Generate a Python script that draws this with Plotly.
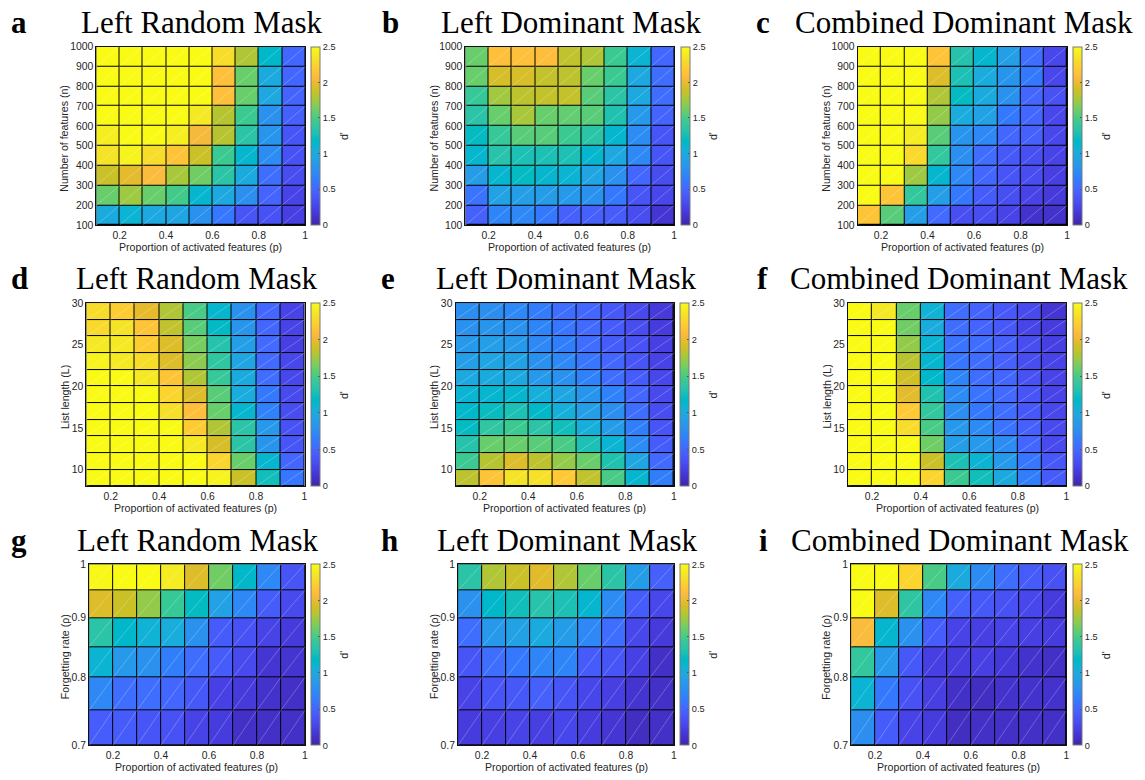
import plotly.graph_objects as go

# ---------------- data ----------------
p_edges = [0.1, 0.2, 0.3, 0.4, 0.5, 0.6, 0.7, 0.8, 0.9, 1.0]
n_edges = [100, 200, 300, 400, 500, 600, 700, 800, 900, 1000]
L_edges = [8, 10, 12, 14, 16, 18, 20, 22, 24, 26, 28, 30]
rho_edges = [0.70, 0.75, 0.80, 0.85, 0.90, 0.95, 1.00]

x_ticks = [0.2, 0.4, 0.6, 0.8, 1.0]
x_ticktext = ["0.2", "0.4", "0.6", "0.8", "1"]
n_ticks = [100, 200, 300, 400, 500, 600, 700, 800, 900, 1000]
L_ticks = [10, 15, 20, 25, 30]
rho_ticks = [0.7, 0.8, 0.9, 1.0]
rho_ticktext = ["0.7", "0.8", "0.9", "1"]
cbar_ticks = [0, 0.5, 1, 1.5, 2, 2.5]
cbar_ticktext = ["0", "0.5", "1", "1.5", "2", "2.5"]

titles = ["Left Random Mask", "Left Dominant Mask", "Combined Dominant Mask"]
letters = ["a", "b", "c", "d", "e", "f", "g", "h", "i"]
x_label = "Proportion of activated features (p)"
y_labels = ["Number of features (n)", "List length (L)", "Forgetting rate (\u03c1)"]
cbar_label = "d'"

# d' values, rows listed from top (largest y) to bottom
dp_n_random = [
    [2.50, 2.50, 2.50, 2.50, 2.50, 2.30, 1.80, 1.15, 0.50],
    [2.50, 2.50, 2.50, 2.50, 2.50, 2.12, 1.60, 1.00, 0.50],
    [2.50, 2.50, 2.50, 2.50, 2.50, 2.12, 1.60, 0.97, 0.48],
    [2.50, 2.50, 2.50, 2.50, 2.38, 1.82, 1.45, 0.80, 0.45],
    [2.42, 2.50, 2.50, 2.42, 2.05, 1.82, 1.35, 0.82, 0.38],
    [2.35, 2.45, 2.30, 2.15, 1.88, 1.45, 1.12, 0.75, 0.36],
    [1.88, 1.98, 2.08, 1.78, 1.62, 1.35, 1.00, 0.55, 0.32],
    [1.60, 1.75, 1.60, 1.48, 1.12, 0.98, 0.78, 0.48, 0.25],
    [1.00, 1.10, 0.98, 0.95, 0.80, 0.60, 0.38, 0.35, 0.22],
]
dp_n_dominant = [
    [1.60, 2.12, 2.12, 2.10, 1.85, 1.80, 1.45, 1.10, 0.50],
    [1.60, 1.92, 1.93, 1.86, 1.84, 1.60, 1.45, 0.98, 0.55],
    [1.42, 1.76, 1.84, 1.86, 1.86, 1.55, 1.35, 0.98, 0.55],
    [1.35, 1.60, 1.78, 1.60, 1.58, 1.55, 1.30, 0.85, 0.48],
    [1.20, 1.42, 1.55, 1.55, 1.45, 1.35, 1.12, 0.75, 0.38],
    [1.12, 1.33, 1.28, 1.28, 1.28, 1.12, 0.98, 0.72, 0.38],
    [0.88, 1.12, 1.20, 1.12, 1.10, 0.95, 0.80, 0.50, 0.32],
    [0.58, 0.92, 0.90, 0.88, 0.85, 0.80, 0.62, 0.38, 0.28],
    [0.45, 0.70, 0.72, 0.62, 0.45, 0.45, 0.42, 0.32, 0.15],
]
dp_n_combined = [
    [2.50, 2.50, 2.50, 2.15, 1.32, 1.12, 0.90, 0.55, 0.28],
    [2.50, 2.50, 2.50, 1.95, 1.28, 1.02, 0.82, 0.62, 0.28],
    [2.50, 2.50, 2.50, 1.80, 1.20, 1.00, 0.80, 0.50, 0.35],
    [2.50, 2.50, 2.50, 1.72, 1.02, 0.92, 0.62, 0.50, 0.28],
    [2.50, 2.50, 2.40, 1.55, 0.82, 0.72, 0.50, 0.45, 0.28],
    [2.50, 2.50, 2.28, 1.40, 0.78, 0.55, 0.40, 0.33, 0.25],
    [2.50, 2.50, 1.75, 1.12, 0.72, 0.50, 0.38, 0.32, 0.22],
    [2.50, 2.15, 1.40, 0.90, 0.62, 0.42, 0.33, 0.25, 0.18],
    [2.15, 1.55, 0.90, 0.52, 0.33, 0.32, 0.25, 0.12, 0.12],
]
dp_L_random = [
    [2.30, 2.20, 1.98, 1.80, 1.50, 1.12, 0.80, 0.50, 0.25],
    [2.28, 2.35, 2.15, 1.85, 1.55, 1.18, 0.82, 0.50, 0.25],
    [2.38, 2.38, 2.20, 1.95, 1.64, 1.32, 0.90, 0.52, 0.22],
    [2.45, 2.38, 2.30, 1.95, 1.70, 1.38, 0.95, 0.52, 0.28],
    [2.50, 2.50, 2.38, 2.15, 1.80, 1.42, 1.00, 0.55, 0.28],
    [2.50, 2.50, 2.50, 2.25, 1.95, 1.55, 1.02, 0.62, 0.30],
    [2.50, 2.50, 2.50, 2.32, 2.10, 1.60, 1.12, 0.68, 0.32],
    [2.50, 2.50, 2.50, 2.50, 2.20, 1.80, 1.35, 0.85, 0.36],
    [2.50, 2.50, 2.50, 2.50, 2.38, 1.92, 1.35, 0.82, 0.38],
    [2.50, 2.50, 2.50, 2.50, 2.50, 2.25, 1.60, 1.12, 0.50],
    [2.50, 2.50, 2.50, 2.50, 2.50, 2.45, 1.88, 1.25, 0.60],
]
dp_L_dominant = [
    [0.78, 0.78, 0.72, 0.64, 0.55, 0.50, 0.40, 0.30, 0.18],
    [0.80, 0.82, 0.80, 0.70, 0.60, 0.52, 0.42, 0.32, 0.20],
    [0.85, 0.90, 0.85, 0.72, 0.65, 0.55, 0.42, 0.35, 0.22],
    [0.90, 0.95, 0.92, 0.80, 0.72, 0.60, 0.50, 0.38, 0.25],
    [0.98, 1.00, 0.98, 0.85, 0.80, 0.68, 0.55, 0.42, 0.28],
    [1.10, 1.12, 1.12, 1.05, 0.95, 0.82, 0.68, 0.50, 0.30],
    [1.15, 1.22, 1.28, 1.15, 1.05, 0.90, 0.78, 0.55, 0.32],
    [1.20, 1.38, 1.45, 1.35, 1.25, 1.05, 0.88, 0.65, 0.38],
    [1.32, 1.60, 1.60, 1.55, 1.50, 1.28, 1.10, 0.75, 0.42],
    [1.45, 1.82, 1.95, 1.84, 1.72, 1.60, 1.30, 0.95, 0.52],
    [1.84, 2.15, 2.35, 2.33, 2.18, 1.85, 1.50, 1.12, 0.65],
]
dp_L_combined = [
    [2.50, 2.38, 1.60, 1.08, 0.55, 0.48, 0.40, 0.30, 0.15],
    [2.50, 2.50, 1.62, 1.02, 0.55, 0.48, 0.40, 0.26, 0.20],
    [2.50, 2.50, 1.72, 1.10, 0.58, 0.55, 0.45, 0.32, 0.22],
    [2.50, 2.50, 1.83, 1.12, 0.60, 0.55, 0.45, 0.32, 0.25],
    [2.50, 2.50, 1.90, 1.15, 0.70, 0.55, 0.50, 0.35, 0.25],
    [2.50, 2.50, 1.97, 1.30, 0.75, 0.58, 0.52, 0.38, 0.25],
    [2.50, 2.50, 2.18, 1.40, 0.78, 0.62, 0.55, 0.40, 0.28],
    [2.50, 2.50, 2.30, 1.50, 0.85, 0.75, 0.58, 0.45, 0.30],
    [2.50, 2.50, 2.50, 1.62, 0.90, 0.85, 0.75, 0.50, 0.30],
    [2.50, 2.50, 2.50, 1.88, 1.28, 1.10, 0.85, 0.60, 0.40],
    [2.50, 2.50, 2.50, 2.25, 1.45, 1.25, 1.00, 0.65, 0.42],
]
dp_rho_random = [
    [2.48, 2.50, 2.50, 2.40, 1.95, 1.62, 1.15, 0.72, 0.38],
    [1.95, 1.88, 1.72, 1.43, 1.20, 0.92, 0.72, 0.42, 0.30],
    [1.35, 1.15, 1.08, 1.03, 0.80, 0.42, 0.36, 0.25, 0.18],
    [1.10, 0.85, 0.80, 0.65, 0.55, 0.42, 0.30, 0.15, 0.14],
    [0.72, 0.55, 0.55, 0.50, 0.40, 0.23, 0.18, 0.12, 0.10],
    [0.43, 0.42, 0.38, 0.36, 0.25, 0.20, 0.10, 0.10, 0.10],
]
dp_rho_dominant = [
    [1.35, 1.80, 1.88, 1.96, 1.80, 1.60, 1.35, 0.88, 0.45],
    [0.80, 1.15, 1.25, 1.33, 1.28, 1.12, 0.75, 0.42, 0.28],
    [0.55, 0.85, 0.92, 1.00, 0.88, 0.72, 0.55, 0.28, 0.18],
    [0.38, 0.55, 0.62, 0.70, 0.70, 0.42, 0.38, 0.24, 0.10],
    [0.25, 0.38, 0.40, 0.45, 0.38, 0.27, 0.22, 0.14, 0.10],
    [0.20, 0.22, 0.25, 0.22, 0.27, 0.20, 0.15, 0.08, 0.10],
]
dp_rho_combined = [
    [2.50, 2.50, 2.25, 1.50, 1.00, 0.75, 0.55, 0.42, 0.35],
    [2.50, 1.95, 1.37, 0.72, 0.45, 0.40, 0.36, 0.28, 0.20],
    [2.08, 1.12, 0.80, 0.43, 0.25, 0.22, 0.25, 0.22, 0.20],
    [1.40, 0.85, 0.40, 0.22, 0.20, 0.22, 0.17, 0.12, 0.10],
    [1.10, 0.62, 0.36, 0.22, 0.10, 0.08, 0.12, 0.12, 0.12],
    [0.78, 0.42, 0.25, 0.20, 0.08, 0.10, 0.10, 0.10, 0.10],
]

# ---------------- style ----------------
PARULA = [
    (0.2422, 0.1504, 0.6603), (0.2504, 0.1650, 0.7076), (0.2578, 0.1818, 0.7511),
    (0.2647, 0.1978, 0.7952), (0.2706, 0.2147, 0.8364), (0.2751, 0.2342, 0.8710),
    (0.2783, 0.2559, 0.8991), (0.2803, 0.2782, 0.9221), (0.2813, 0.3006, 0.9414),
    (0.2810, 0.3228, 0.9579), (0.2795, 0.3447, 0.9717), (0.2760, 0.3667, 0.9829),
    (0.2699, 0.3892, 0.9906), (0.2602, 0.4123, 0.9952), (0.2440, 0.4358, 0.9988),
    (0.2206, 0.4603, 0.9973), (0.1963, 0.4847, 0.9892), (0.1834, 0.5074, 0.9798),
    (0.1786, 0.5289, 0.9682), (0.1764, 0.5499, 0.9520), (0.1687, 0.5703, 0.9359),
    (0.1540, 0.5902, 0.9218), (0.1460, 0.6091, 0.9079), (0.1380, 0.6276, 0.8973),
    (0.1248, 0.6459, 0.8883), (0.1113, 0.6635, 0.8763), (0.0952, 0.6798, 0.8598),
    (0.0689, 0.6948, 0.8394), (0.0297, 0.7082, 0.8163), (0.0036, 0.7203, 0.7917),
    (0.0067, 0.7312, 0.7660), (0.0433, 0.7411, 0.7394), (0.0964, 0.7500, 0.7120),
    (0.1408, 0.7584, 0.6842), (0.1717, 0.7670, 0.6554), (0.1938, 0.7758, 0.6251),
    (0.2161, 0.7843, 0.5923), (0.2470, 0.7918, 0.5567), (0.2906, 0.7973, 0.5188),
    (0.3406, 0.8008, 0.4789), (0.3909, 0.8029, 0.4354), (0.4456, 0.8024, 0.3909),
    (0.5044, 0.7993, 0.3480), (0.5616, 0.7942, 0.3045), (0.6174, 0.7876, 0.2612),
    (0.6720, 0.7793, 0.2227), (0.7242, 0.7698, 0.1910), (0.7738, 0.7598, 0.1646),
    (0.8203, 0.7498, 0.1535), (0.8634, 0.7406, 0.1596), (0.9035, 0.7330, 0.1774),
    (0.9393, 0.7288, 0.2100), (0.9728, 0.7298, 0.2394), (0.9956, 0.7434, 0.2371),
    (0.9970, 0.7659, 0.2199), (0.9952, 0.7893, 0.2028), (0.9892, 0.8136, 0.1885),
    (0.9786, 0.8386, 0.1766), (0.9676, 0.8639, 0.1643), (0.9610, 0.8890, 0.1537),
    (0.9597, 0.9135, 0.1423), (0.9628, 0.9373, 0.1265), (0.9691, 0.9606, 0.1064),
    (0.9769, 0.9839, 0.0805),
]
colorscale = [[i / (len(PARULA) - 1),
               "rgb(%d,%d,%d)" % tuple(round(c * 255) for c in col)]
              for i, col in enumerate(PARULA)]

W, H = 1145, 780
TXT = "#262626"
SANS = "Liberation Sans, Arial, sans-serif"
SERIF = "Liberation Serif, Times New Roman, serif"

row_tb = [(42.3, 223.3), (302.3, 488.3), (567.3, 751.0)]
col_lr = [[(96.7, 306.0), (466.7, 676.0), (860.0, 1070.0)],
          [(86.7, 305.3), (456.7, 675.7), (850.0, 1069.3)],
          [(89.3, 305.7), (459.3, 675.7), (853.3, 1069.3)]]
ylab_x = [[64.0, 434.7, 828.0], [64.5, 434.5, 829.0], [64.5, 435.3, 828.0]]
letter_x = [[9, 381, 756], [9, 380, 757], [9, 380, 759]]


def fx(px):
    return px / W


def fy(py):
    return 1 - py / H


rows_data = [
    (n_edges, [dp_n_random, dp_n_dominant, dp_n_combined], n_ticks, [str(v) for v in n_ticks], "linear"),
    (L_edges, [dp_L_random, dp_L_dominant, dp_L_combined], L_ticks, [str(v) for v in L_ticks], "linear"),
    (rho_edges, [dp_rho_random, dp_rho_dominant, dp_rho_combined], rho_ticks, rho_ticktext, "log"),
]

fig = go.Figure()
annotations = []
k = 0
for r, (y_edges, zs, yt, ytt, ytype) in enumerate(rows_data):
    top, bot = row_tb[r]
    for c in range(3):
        k += 1
        left, right = col_lr[r][c]
        xa = "x" if k == 1 else "x%d" % k
        ya = "y" if k == 1 else "y%d" % k
        z_bottom_up = zs[c][::-1]
        fig.add_trace(go.Heatmap(
            x=p_edges, y=y_edges, z=z_bottom_up,
            colorscale=colorscale, zmin=0, zmax=2.5,
            xgap=1, ygap=1, xaxis=xa, yaxis=ya, hoverinfo="skip",
            colorbar=dict(
                x=fx(right + 6.3), xanchor="left", xpad=0, ypad=0,
                y=fy(top), yanchor="top", len=(bot - top) / H, lenmode="fraction",
                thickness=9.4, thicknessmode="pixels",
                outlinewidth=1, outlinecolor="#7a7a7a",
                tickvals=cbar_ticks, ticktext=cbar_ticktext,
                ticks="inside", ticklen=2.5, tickcolor="#555555", tickwidth=0.8,
                tickfont=dict(family=SANS, size=9.2, color=TXT),
            ),
        ))
        # faint diagonals across each cell
        dx, dy = [], []
        for j in range(len(y_edges) - 1):
            for i in range(len(p_edges) - 1):
                dx += [p_edges[i], p_edges[i + 1], None]
                dy += [y_edges[j], y_edges[j + 1], None]
        fig.add_trace(go.Scatter(
            x=dx, y=dy, mode="lines", xaxis=xa, yaxis=ya, hoverinfo="skip",
            line=dict(color="rgba(255,255,255,0.35)", width=0.7), showlegend=False,
        ))
        axkey = "xaxis" if k == 1 else "xaxis%d" % k
        aykey = "yaxis" if k == 1 else "yaxis%d" % k
        fig.layout[axkey] = dict(
            domain=[fx(left), fx(right)], anchor=ya, range=[0.1, 1.0],
            tickvals=x_ticks, ticktext=x_ticktext, ticks="",
            showgrid=False, zeroline=False, showline=True, mirror=True,
            linecolor="#111111", linewidth=1,
            tickfont=dict(family=SANS, size=10.4, color=TXT),
        )
        if ytype == "log":
            import math
            yrange = [math.log10(y_edges[0]), math.log10(y_edges[-1])]
        else:
            yrange = [y_edges[0], y_edges[-1]]
        fig.layout[aykey] = dict(
            domain=[fy(bot), fy(top)], anchor=xa, type=ytype, range=yrange,
            tickvals=yt, ticktext=ytt, ticks="",
            showgrid=False, zeroline=False, showline=True, mirror=True,
            linecolor="#111111", linewidth=1,
            tickfont=dict(family=SANS, size=10.4, color=TXT),
        )
        cx = (left + right) / 2
        cy = (top + bot) / 2
        # title
        annotations.append(dict(
            text=titles[c], x=fx(cx + 1.5), y=fy(top - 24.5), xref="paper", yref="paper",
            xanchor="center", yanchor="middle", showarrow=False,
            font=dict(family=SERIF, size=31, color="black"),
        ))
        # panel letter
        annotations.append(dict(
            text="<b>%s</b>" % letters[k - 1], x=fx(letter_x[r][c]), y=fy(top - 24.5),
            xref="paper", yref="paper", xanchor="left", yanchor="middle", showarrow=False,
            font=dict(family=SERIF, size=31, color="black"),
        ))
        # x label
        annotations.append(dict(
            text=x_label, x=fx(cx), y=fy(bot + 22.3), xref="paper", yref="paper",
            xanchor="center", yanchor="middle", showarrow=False,
            font=dict(family=SANS, size=10.6, color=TXT),
        ))
        # y label
        annotations.append(dict(
            text=y_labels[r], x=fx(ylab_x[r][c]), y=fy(cy + 2), xref="paper", yref="paper",
            xanchor="center", yanchor="middle", showarrow=False, textangle=-90,
            font=dict(family=SANS, size=10.6, color=TXT),
        ))
        # colorbar label
        annotations.append(dict(
            text=cbar_label, x=fx(right + 39), y=fy(cy), xref="paper", yref="paper",
            xanchor="center", yanchor="middle", showarrow=False, textangle=-90,
            font=dict(family=SANS, size=10.6, color=TXT),
        ))

fig.update_layout(
    width=W, height=H, margin=dict(l=0, r=0, t=0, b=0),
    paper_bgcolor="white", plot_bgcolor="black",
    showlegend=False, annotations=annotations,
)
fig.write_html("out.html")
